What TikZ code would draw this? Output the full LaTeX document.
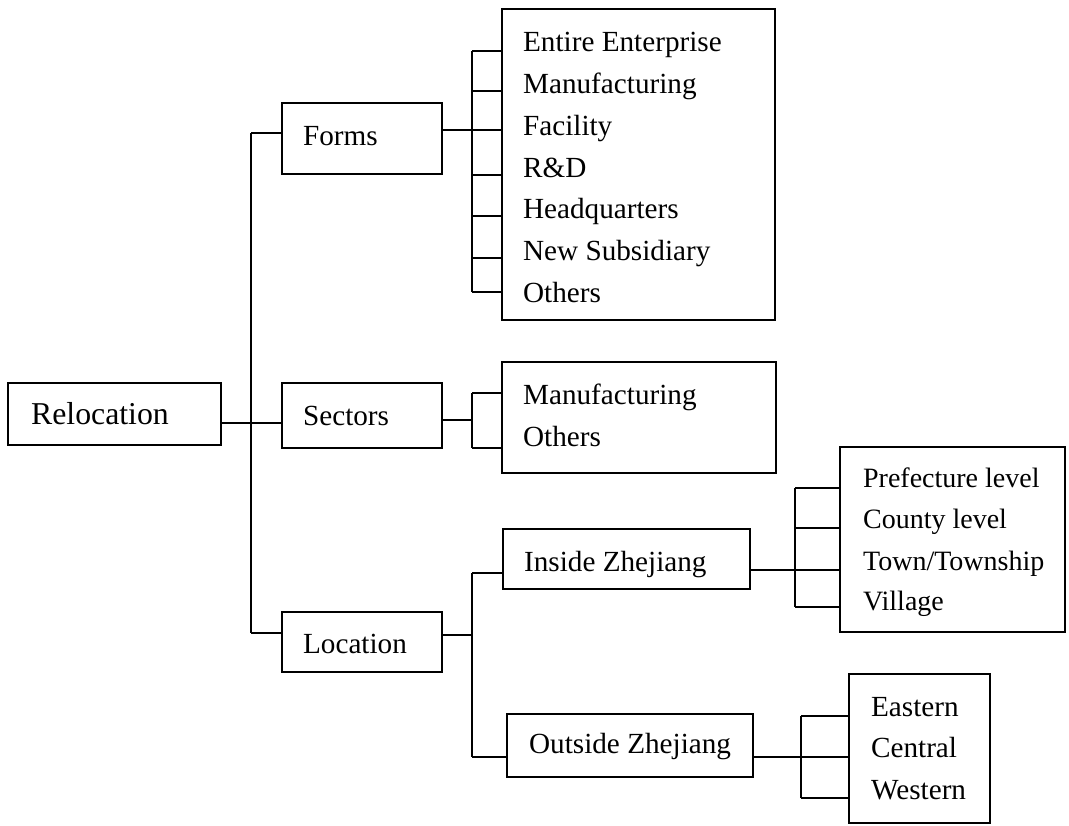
\documentclass[tikz,border=0pt]{standalone}
\usepackage{fontspec}
\setmainfont{Liberation Serif}
\usetikzlibrary{fit}
\begin{document}
\begin{tikzpicture}[x=0.5pt,y=-0.5pt,line width=1.1pt,
  box/.style={draw,inner sep=0pt,line width=1.1pt},
  lbl/.style={anchor=base west,inner sep=0pt,font=\fontsize{14.6}{17}\selectfont},
  smlbl/.style={anchor=base west,inner sep=0pt,font=\fontsize{14.0}{17}\selectfont},
  biglbl/.style={anchor=base west,inner sep=0pt,font=\fontsize{15.9}{18}\selectfont}]
\useasboundingbox (0,0) rectangle (1069,825);
% boxes
\node[box,fit={(8,383) (221,445)}] (reloc) {};
\node[box,fit={(282,103) (442,174)}] (forms) {};
\node[box,fit={(282,383) (442,448)}] (sectors) {};
\node[box,fit={(282,612) (442,672)}] (location) {};
\node[box,fit={(502,9) (775,320)}] (formsitems) {};
\node[box,fit={(502,362) (776,473)}] (sectorsitems) {};
\node[box,fit={(503,529) (750,589)}] (inside) {};
\node[box,fit={(507,714) (753,777)}] (outside) {};
\node[box,fit={(840,447) (1065,632)}] (insideitems) {};
\node[box,fit={(849,674) (990,823)}] (outsideitems) {};
% labels
\node[biglbl] (tReloc) at (30,424) {Relocation};
\node[lbl] (tForms) at (302,145) {Forms};
\node[lbl] (tSectors) at (302,425) {Sectors};
\node[lbl] (tLocation) at (302,653) {Location};
\node[lbl] (tInside) at (523,571) {Inside Zhejiang};
\node[lbl] (tOutside) at (528,753) {Outside Zhejiang};
\node[lbl] (f1) at (522,51) {Entire Enterprise};
\node[lbl] (f2) at (522,93) {Manufacturing};
\node[lbl] (f3) at (522,135) {Facility};
\node[lbl] (f4) at (522,177) {R\&D};
\node[lbl] (f5) at (522,218) {Headquarters};
\node[lbl] (f6) at (522,260) {New Subsidiary};
\node[lbl] (f7) at (522,302) {Others};
\node[lbl] (s1) at (522,404) {Manufacturing};
\node[lbl] (s2) at (522,446) {Others};
\node[smlbl] (i1) at (862,487) {Prefecture level};
\node[smlbl] (i2) at (862,528) {County level};
\node[smlbl] (i3) at (862,570) {Town/Township};
\node[smlbl] (i4) at (862,610) {Village};
\node[lbl] (o1) at (870,716) {Eastern};
\node[lbl] (o2) at (870,757) {Central};
\node[lbl] (o3) at (870,799) {Western};
% level 1 connectors
\coordinate (tTop) at (251,133);
\coordinate (tBot) at (251,633);
\draw (tTop) -- (tBot);
\draw (reloc.east |- 0,423) -- (sectors.west |- 0,423);
\draw (tTop) -- (forms.west |- tTop);
\draw (tBot) -- (location.west |- tBot);
% forms bracket
\coordinate (fbTop) at (472,51);
\coordinate (fbBot) at (472,292);
\draw (forms.east |- 0,130) -- (472,130);
\draw (fbTop) -- (fbBot);
\foreach \yy in {51,91,130,175,216,258,292}
  \draw (472,\yy) -- (formsitems.west |- 0,\yy);
% sectors bracket
\draw (sectors.east |- 0,420) -- (472,420);
\draw (472,393) -- (472,448);
\foreach \yy in {393,448}
  \draw (472,\yy) -- (sectorsitems.west |- 0,\yy);
% location bracket
\draw (location.east |- 0,635) -- (472,635);
\draw (472,573) -- (472,757);
\draw (472,573) -- (inside.west |- 0,573);
\draw (472,757) -- (outside.west |- 0,757);
% inside bracket
\draw (inside.east |- 0,570) -- (795,570);
\draw (795,488) -- (795,607);
\foreach \yy in {488,528,570,607}
  \draw (795,\yy) -- (insideitems.west |- 0,\yy);
% outside bracket
\draw (outside.east |- 0,757) -- (801,757);
\draw (801,716) -- (801,798);
\foreach \yy in {716,757,798}
  \draw (801,\yy) -- (outsideitems.west |- 0,\yy);
\end{tikzpicture}
\end{document}
